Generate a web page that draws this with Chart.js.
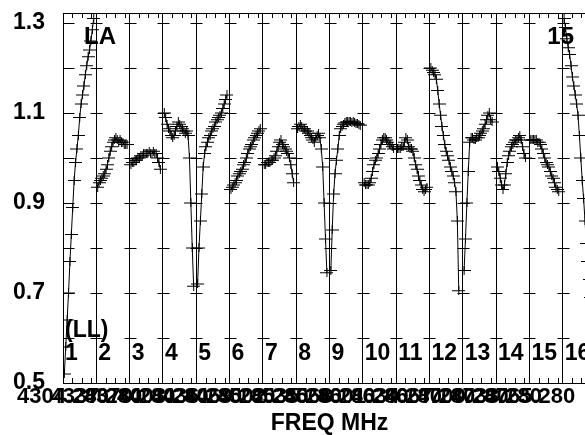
<!DOCTYPE html>
<html>
<head>
<meta charset="utf-8">
<script src="https://cdn.jsdelivr.net/npm/chart.js@4.4.0/dist/chart.umd.min.js"></script>
<style>
  html, body { margin: 0; padding: 0; background: #fff; overflow: hidden; }
  #wrap { width: 585px; height: 435px; overflow: hidden; }
</style>
</head>
<body>
<div id="wrap"><canvas id="chart" width="600" height="435"></canvas></div>
<script>
// IF numbers and the frequency tick labels along the bottom
const PANEL_LABELS = ['1', '2', '3', '4', '5', '6', '7', '8', '9', '10', '11', '12', '13', '14', '15', '16'];
const X_LABELS = ['4304.280', '4337.280', '4370.280', '4403.280', '4436.280', '4469.280', '4502.280', '4535.280',
  '4568.280', '4601.280', '4634.280', '4667.280', '4700.280', '4733.280', '4765.280'];
const Y_TICKS = [0.5, 0.7, 0.9, 1.1, 1.3];
const STATION = 'LA';
const STOKES = '(LL)';
const ANTENNA = '15';

// bandpass amplitude per channel, one array per IF
const IF01 = [0.52, 0.58, 0.64, 0.70, 0.77, 0.83, 0.89, 0.95, 0.99, 1.02, 1.05, 1.09, 1.12, 1.14, 1.16, 1.185, 1.205, 1.225, 1.24, 1.26, 1.285, 1.31];
const IF02 = [0.935, 0.945, 0.95, 0.955, 0.96, 0.965, 0.975, 0.985, 1.0, 1.015, 1.025, 1.035, 1.04, 1.045, 1.04, 1.035, 1.04, 1.035, 1.035, 1.03, 1.03, 1.03];
const IF03 = [0.985, 0.99, 0.99, 0.995, 0.995, 1.0, 1.0, 1.005, 1.005, 1.01, 1.01, 1.01, 1.01, 1.015, 1.01, 1.01, 1.015, 1.01, 1.01, 1.0, 0.99, 0.975];
const IF04 = [1.10, 1.09, 1.075, 1.065, 1.06, 1.05, 1.045, 1.05, 1.06, 1.07, 1.08, 1.075, 1.07, 1.065, 1.06, 1.055, 1.06, 1.05, 1.0, 0.90, 0.80, 0.715];
const IF05 = [0.72, 0.80, 0.86, 0.92, 0.98, 1.01, 1.025, 1.035, 1.045, 1.05, 1.06, 1.065, 1.07, 1.08, 1.085, 1.09, 1.095, 1.10, 1.11, 1.12, 1.13, 1.14];
const IF06 = [0.93, 0.935, 0.94, 0.945, 0.95, 0.96, 0.965, 0.97, 0.975, 0.985, 0.99, 1.0, 1.01, 1.02, 1.025, 1.03, 1.04, 1.045, 1.05, 1.055, 1.06, 1.065];
const IF07 = [0.985, 0.985, 0.99, 0.99, 0.99, 0.995, 0.995, 1.0, 1.005, 1.015, 1.025, 1.035, 1.04, 1.03, 1.025, 1.02, 1.015, 1.01, 1.0, 0.985, 0.965, 0.945];
const IF08 = [1.065, 1.07, 1.075, 1.07, 1.065, 1.065, 1.06, 1.06, 1.055, 1.05, 1.045, 1.04, 1.035, 1.045, 1.05, 1.055, 1.045, 1.02, 0.98, 0.90, 0.82, 0.745];
const IF09 = [0.75, 0.84, 0.92, 0.965, 0.995, 1.02, 1.05, 1.065, 1.07, 1.075, 1.078, 1.08, 1.08, 1.082, 1.08, 1.078, 1.08, 1.078, 1.077, 1.076, 1.075, 1.073];
const IF10 = [0.945, 0.94, 0.94, 0.94, 0.945, 0.955, 0.97, 0.985, 0.995, 1.0, 1.01, 1.02, 1.03, 1.04, 1.045, 1.045, 1.04, 1.035, 1.03, 1.03, 1.025, 1.02];
const IF11 = [1.02, 1.02, 1.02, 1.025, 1.025, 1.035, 1.045, 1.04, 1.025, 1.02, 1.02, 1.015, 1.0, 0.985, 0.975, 0.96, 0.95, 0.94, 0.93, 0.925, 0.93, 0.935];
const IF12 = [1.20, 1.195, 1.19, 1.185, 1.175, 1.15, 1.12, 1.095, 1.07, 1.05, 1.03, 1.015, 1.005, 0.995, 0.98, 0.97, 0.96, 0.945, 0.925, 0.86, 0.705, null];
const IF13 = [0.75, 0.82, 0.90, 0.97, 1.035, 1.045, 1.045, 1.04, 1.04, 1.045, 1.045, 1.05, 1.055, 1.06, 1.065, 1.075, 1.085, 1.095, 1.10, 1.085, 1.08, null];
const IF14 = [0.98, 0.97, 0.955, 0.94, 0.93, 0.94, 0.965, 0.99, 1.005, 1.015, 1.025, 1.03, 1.035, 1.04, 1.04, 1.045, 1.05, 1.04, 1.025, 1.01, 1.0, null];
const IF15 = [1.04, 1.04, 1.04, 1.04, 1.04, 1.035, 1.035, 1.03, 1.02, 1.01, 1.0, 0.99, 0.985, 0.98, 0.97, 0.96, 0.955, 0.945, 0.935, 0.93, 0.925, null];
const IF16 = [1.31, 1.29, 1.265, 1.245, 1.23, 1.205, 1.18, 1.16, 1.14, 1.12, 1.095, 1.05, 1.0, 0.95, 0.91, 0.86, 0.81, 0.77, 0.73, 0.69, 0.66, 0.63];

const PANELS = [IF01, IF02, IF03, IF04, IF05, IF06, IF07, IF08, IF09, IF10, IF11, IF12, IF13, IF14, IF15, IF16];

// channel placement inside one IF box (fraction of the box)
const CH_START = 0.04;
const CH_STEP = 0.042;
const MINOR_FRACS = [0.28, 0.56, 0.85];
const FONT = '"Liberation Sans", Arial, Helvetica, sans-serif';

// "+" marker: wide horizontal bar, shorter vertical bar
const cross = document.createElement('canvas');
cross.width = 13;
cross.height = 9;
const cc = cross.getContext('2d');
cc.fillStyle = '#000';
cc.fillRect(0, 4, 13, 1);
cc.fillRect(6, 0, 1, 9);

const datasets = PANELS.map((vals, p) => ({
  data: vals.map((v, k) => ({ x: p + CH_START + k * CH_STEP, y: v })),
  borderColor: '#000',
  borderWidth: 1,
  pointStyle: cross,
  pointRadius: 3,
  pointHoverRadius: 3,
  tension: 0,
  fill: false
}));

const framePlugin = {
  id: 'frame',
  beforeDatasetsDraw(chart) {
    const { ctx, chartArea: a, scales: { x, y } } = chart;
    ctx.save();
    ctx.strokeStyle = '#000';
    ctx.lineWidth = 1;
    ctx.beginPath();
    ctx.moveTo(a.left, Math.round(a.top) + 0.5);
    ctx.lineTo(a.right, Math.round(a.top) + 0.5);
    for (let p = 0; p < PANELS.length; p++) {
      for (const f of MINOR_FRACS) {
        const px = Math.round(x.getPixelForValue(p + f)) + 0.5;
        ctx.moveTo(px, a.top);
        ctx.lineTo(px, a.top + 5);
        ctx.moveTo(px, a.bottom);
        ctx.lineTo(px, a.bottom - 5);
      }
    }
    for (let b = 0; b <= PANELS.length; b++) {
      const px = Math.round(x.getPixelForValue(b)) + 0.5;
      for (let t = 6; t <= 13; t++) {
        const py = Math.round(y.getPixelForValue(t / 10)) + 0.5;
        ctx.moveTo(b === 0 ? px : px - 6, py);
        ctx.lineTo(b === 0 ? px + 11 : px + 6, py);
      }
    }
    ctx.stroke();
    ctx.restore();
  },
  afterDatasetsDraw(chart) {
    const { ctx, chartArea: a, scales: { x } } = chart;
    ctx.save();
    ctx.fillStyle = '#000';
    ctx.font = 'bold 23px ' + FONT;
    ctx.textBaseline = 'middle';
    ctx.textAlign = 'left';
    PANEL_LABELS.forEach((lab, p) => {
      ctx.fillText(lab, x.getPixelForValue(p) + 2, a.bottom - 29);
    });
    ctx.fillText(STOKES, x.getPixelForValue(0) + 2, a.bottom - 52);
    ctx.font = 'bold 24px ' + FONT;
    ctx.fillText(STATION, x.getPixelForValue(0) + 21, a.top + 24);
    ctx.textAlign = 'right';
    ctx.fillText(ANTENNA, a.right - 22, a.top + 24);
    ctx.restore();
  }
};

new Chart(document.getElementById('chart'), {
  type: 'line',
  data: { datasets },
  options: {
    responsive: false,
    animation: false,
    devicePixelRatio: 1,
    events: [],
    layout: { padding: { top: 13, right: 4, left: 0, bottom: 0 } },
    plugins: { legend: { display: false }, tooltip: { enabled: false } },
    scales: {
      x: {
        type: 'linear',
        min: 0,
        max: PANELS.length,
        afterBuildTicks: s => { s.ticks = PANELS.map((_, i) => ({ value: i })).concat({ value: PANELS.length }); },
        afterFit: s => { s.height = 52; s.paddingLeft = 0; s.paddingRight = 0; },
        ticks: {
          callback: (v, i) => X_LABELS[i] || '',
          autoSkip: false,
          maxRotation: 0,
          minRotation: 0,
          padding: 1,
          color: '#000',
          font: { family: FONT, size: 22, weight: 'bold' }
        },
        grid: { color: '#000', lineWidth: 1, drawTicks: false },
        border: { display: true, color: '#000', width: 1 },
        title: {
          display: true,
          text: 'FREQ MHz',
          color: '#000',
          padding: 0,
          font: { family: FONT, size: 23, weight: 'bold', lineHeight: 1 }
        }
      },
      y: {
        type: 'linear',
        min: 0.5,
        max: 1.3222,
        afterBuildTicks: s => { s.ticks = Y_TICKS.map(v => ({ value: v })); },
        afterFit: s => { s.width = 63; s.paddingTop = 0; s.paddingBottom = 0; },
        ticks: {
          callback: v => v.toFixed(1),
          padding: 10,
          color: '#000',
          font: { family: FONT, size: 23, weight: 'bold' }
        },
        grid: { display: false },
        border: { display: true, color: '#000', width: 1 }
      }
    }
  },
  plugins: [framePlugin]
});
</script>
</body>
</html>
